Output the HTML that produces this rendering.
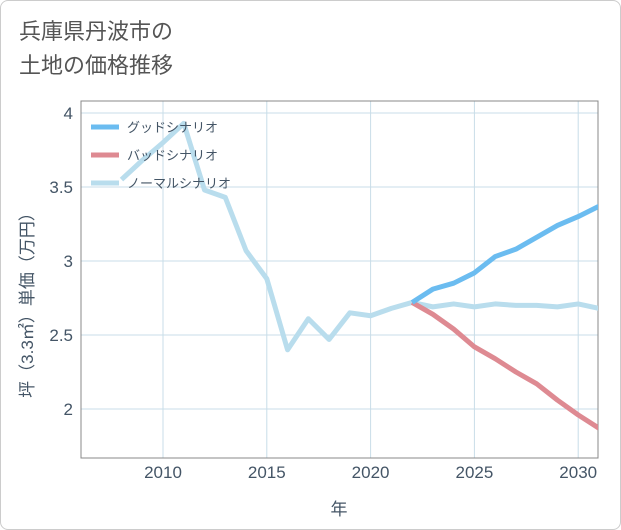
<!DOCTYPE html>
<html><head><meta charset="utf-8"><style>
body{margin:0;background:#fff;}
#wrap{position:relative;width:619px;height:528px;border:1px solid #ccc;border-radius:8px;background:#fff;overflow:hidden;}
#title{position:absolute;left:18px;top:14px;font:22px "Liberation Sans","Noto Sans CJK JP",sans-serif;color:#555;line-height:34px;}
svg text{font-family:"Liberation Sans","Noto Sans CJK JP",sans-serif;}
</style></head><body>
<div id="wrap">
<div id="title">兵庫県丹波市の<br>土地の価格推移</div>
<svg id="chart" width="621" height="530" style="position:absolute;left:0;top:0"></svg>
</div>
<script>
const years=[2008,2009,2010,2011,2012,2013,2014,2015,2016,2017,2018,2019,2020,2021,2022,2023,2024,2025,2026,2027,2028,2029,2030,2031];
const normal=[3.55,3.68,3.8,3.93,3.48,3.43,3.07,2.88,2.4,2.61,2.47,2.65,2.63,2.68,2.72,2.69,2.71,2.69,2.71,2.70,2.70,2.69,2.71,2.68];
const futureYears=[2022,2023,2024,2025,2026,2027,2028,2029,2030,2031];
const good=[2.72,2.81,2.85,2.92,3.03,3.08,3.16,3.24,3.30,3.37];
const bad=[2.72,2.64,2.54,2.42,2.34,2.25,2.17,2.06,1.96,1.87];
const xTicks=[2010,2015,2020,2025,2030];
const yTicks=[2,2.5,3,3.5,4];
const yLabels=["2","2.5","3","3.5","4"];

const L=80,R=597,T=100,B=457;
const x=v=>162+(v-2010)*20.76;
const y=v=>408-(v-2)*148;
const svg=document.getElementById('chart');
const NS='http://www.w3.org/2000/svg';
function mk(t,a,parent){const e=document.createElementNS(NS,t);for(const k in a)e.setAttribute(k,a[k]);(parent||svg).appendChild(e);return e;}
const defs=mk('defs',{});
const cp=mk('clipPath',{id:'c'},defs);
mk('rect',{x:L,y:T,width:R-L,height:B-T},cp);
xTicks.forEach(v=>{
 const g=mk('line',{x1:x(v),x2:x(v),y1:T,y2:B,stroke:'#c8dde8','stroke-width':1});
 
 
 const t=mk('text',{x:x(v),y:477,'text-anchor':'middle','font-size':17,fill:'#445566'});
 t.textContent=v;
 
 
});
yTicks.forEach((v,i)=>{
 const g=mk('line',{x1:L,x2:R,y1:y(v),y2:y(v),stroke:'#c8dde8','stroke-width':1});
 
 
 const t=mk('text',{x:72,y:y(v)+6,'text-anchor':'end','font-size':17,fill:'#445566'});
 t.textContent=yLabels[i];
 
 
});
const fr=mk('rect',{x:L,y:T,width:R-L,height:B-T,fill:'none',stroke:'#888','stroke-width':1});


function line(xs,ys,color,name){
 const p=mk('polyline',{points:xs.map((v,i)=>x(v)+','+y(ys[i])).join(' '),fill:'none',stroke:color,'stroke-width':5,'stroke-linejoin':'round','clip-path':'url(#c)'});
 
 
}
line(years,normal,'#b9dded','normal-line');
line(futureYears,bad,'#de8a92','bad-line');
line(futureYears,good,'#6bbcf0','good-line');
const leg=[['グッドシナリオ','#6bbcf0'],['バッドシナリオ','#de8a92'],['ノーマルシナリオ','#b9dded']];
leg.forEach((l,i)=>{
 const ly=126+i*28;
 const s=mk('line',{x1:90,x2:118,y1:ly,y2:ly,stroke:l[1],'stroke-width':5});
 
 
 const t=mk('text',{x:126,y:ly+5,'font-size':13,fill:'#445566'});
 t.textContent=l[0];
 
 
});
const xt=mk('text',{x:338,y:514,'text-anchor':'middle','font-size':17,fill:'#445566'});
xt.textContent='年';


const yt=mk('text',{x:0,y:0,'text-anchor':'middle','font-size':17,fill:'#445566',transform:'translate(32,300) rotate(-90)'});
yt.textContent='坪（3.3㎡）単価（万円）';


</script>
</body></html>
